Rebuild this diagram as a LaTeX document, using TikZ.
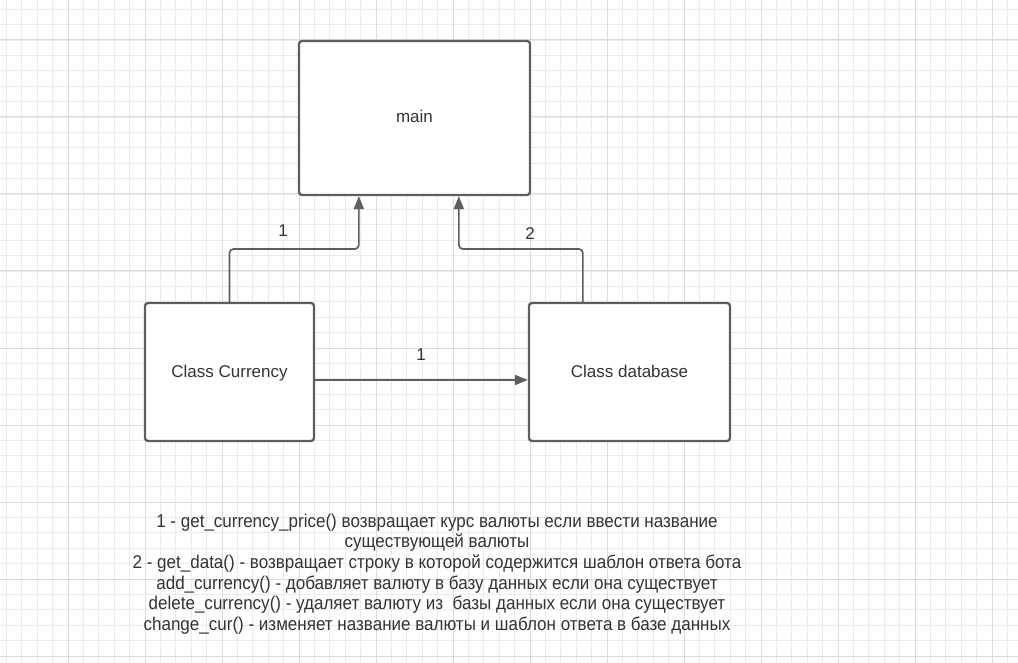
\documentclass[tikz,border=0pt]{standalone}
\usepackage{fontspec}
\setmainfont{Liberation Sans}
\usetikzlibrary{arrows.meta}
\definecolor{edgegray}{HTML}{5E5E5E}
\definecolor{txtgray}{HTML}{333333}
\definecolor{gridminor}{HTML}{EBEBEB}
\definecolor{gridmajor}{HTML}{DCDCDC}
\begin{document}
\begin{tikzpicture}[x=1pt,y=-1pt,
  every node/.style={text=txtgray,font=\fontsize{17}{20}\selectfont},
  classbox/.style={draw=edgegray,line width=2.3pt,rounded corners=3pt,fill=white,inner sep=0pt,text height=12pt,text depth=2pt},
  conn/.style={draw=edgegray,line width=1.7pt,rounded corners=4pt,-{Triangle[length=13pt,width=10pt]}},
  lbl/.style={inner sep=0pt}]
\useasboundingbox (0,0) rectangle (1018,663);
\fill[white] (0,0) rectangle (1018,663);
% grid
\foreach \k in {-4,...,62} {
  \pgfmathsetmacro\gx{68+15.4*\k}
  \draw[gridminor,line width=0.9pt] (\gx,0) -- (\gx,663);
}
\foreach \k in {-2,...,40} {
  \pgfmathsetmacro\gy{40+15.4*\k}
  \draw[gridminor,line width=0.9pt] (0,\gy) -- (1018,\gy);
}
\foreach \k in {-1,...,12} {
  \pgfmathsetmacro\gx{68+77*\k}
  \draw[gridmajor,line width=1pt] (\gx,0) -- (\gx,663);
}
\foreach \k in {0,...,8} {
  \pgfmathsetmacro\gy{40+77*\k}
  \draw[gridmajor,line width=1pt] (0,\gy) -- (1018,\gy);
}
% boxes
\node[classbox,minimum width=231pt,minimum height=154pt] (main) at (414.5,118) {main};
\node[classbox,minimum width=169pt,minimum height=138pt] (cur) at (229.5,372) {Class Currency};
\node[classbox,minimum width=201pt,minimum height=138pt] (db) at (629.5,372) {Class database};
% connectors
\draw[conn] (cur.north) -- (cur.north |- 0,249) -| ([xshift=61pt]main.south west);
\draw[conn] ([xshift=55pt]db.north west) -- ([xshift=55pt]db.north west |- 0,249) -| ([xshift=161pt]main.south west);
\draw[conn] ([yshift=-8pt]cur.east) -- ([yshift=-8pt]db.west);
\node[lbl] (l1) at (283,231) {1};
\node[lbl] (l2) at (530,234) {2};
\node[lbl] (l3) at (421,355) {1};
% notes
\begin{scope}[shift={(437,574)},xscale=0.92,transform shape]
\node[align=center,font=\fontsize{18.5}{20.6}\selectfont,inner sep=0pt] (notes) at (0,0) {%
1 - get\_currency\_price() возвращает курс валюты если ввести название\\
существующей валюты\\
2 - get\_data() - возвращает строку в которой содержится шаблон ответа бота\\
add\_currency() - добавляет валюту в базу данных если она существует\\
delete\_currency() - удаляет валюту из \ базы данных если она существует\\
change\_cur() - изменяет название валюты и шаблон ответа в базе данных};
\end{scope}
\end{tikzpicture}
\end{document}
